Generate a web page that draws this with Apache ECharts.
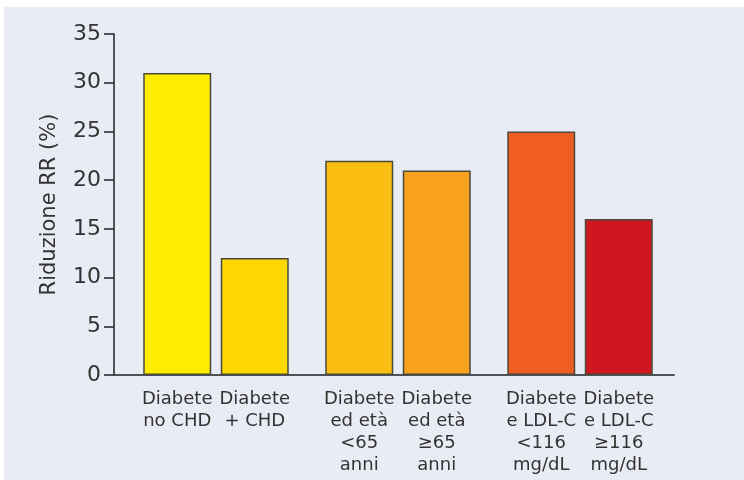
<!DOCTYPE html>
<html>
<head>
<meta charset="utf-8">
<script src="https://cdn.jsdelivr.net/npm/echarts@6/dist/echarts.min.js"></script>
<style>
  html, body { margin: 0; padding: 0; background: #ffffff; }
  #panel { position: absolute; left: 4px; top: 7px; width: 740px; height: 473px; background: #e9ecf4; }
  #chart { position: absolute; left: 0; top: 0; width: 744px; height: 480px; }
</style>
</head>
<body>
<div id="panel"></div>
<div id="chart"></div>
<script>
// Each group holds a pair of bars: the left one and the right one.
const leftLabels  = ['Diabete\nno CHD', 'Diabete\ned età\n<65\nanni', 'Diabete\ne LDL-C\n<116\nmg/dL'];
const rightLabels = ['Diabete\n+ CHD',  'Diabete\ned età\n≥65\nanni', 'Diabete\ne LDL-C\n≥116\nmg/dL'];
const leftValues  = [31, 22, 25];
const rightValues = [12, 21, 16];
const leftColors  = ['#ffed00', '#fbbf14', '#f05d23'];
const rightColors = ['#fdd800', '#f7a11c', '#ce171f'];
const groupKeys   = ['g1', 'g2', 'g3'];
const yTicks      = { min: 0, max: 35, step: 5 };

const textColor = '#333333';
const axisColor = '#4f5259';
const borderCol = '#4a4a3c';

function barSeries(values, colors, labels) {
  return {
    type: 'bar',
    xAxisIndex: 1,
    yAxisIndex: 1,
    barWidth: 68,
    barGap: '14%',
    data: values.map((v, i) => ({
      value: v,
      itemStyle: { color: colors[i], borderColor: borderCol, borderWidth: 1.5 }
    })),
    label: {
      show: true,
      position: 'bottom',
      distance: 13,
      formatter: p => labels[p.dataIndex],
      color: textColor,
      fontFamily: 'DejaVu Sans',
      fontSize: 18,
      lineHeight: 22,
      align: 'center'
    },
    emphasis: { disabled: true },
    animation: false
  };
}

const chart = echarts.init(document.getElementById('chart'), null, { renderer: 'canvas' });
chart.setOption({
  animation: false,
  grid: [
    { left: 114, right: 70, top: 34, bottom: 105 },
    { left: 125, right: 73, top: 34, bottom: 105 }
  ],
  xAxis: [
    {
      gridIndex: 0,
      type: 'category',
      data: [''],
      axisLine: { show: true, lineStyle: { color: axisColor, width: 2 } },
      axisTick: { show: false },
      axisLabel: { show: false }
    },
    {
      gridIndex: 1,
      type: 'category',
      data: groupKeys,
      show: false
    }
  ],
  yAxis: [
    {
      gridIndex: 0,
      type: 'value',
      min: yTicks.min,
      max: yTicks.max,
      interval: yTicks.step,
      name: 'Riduzione RR (%)',
      nameLocation: 'middle',
      nameGap: 54,
      nameTextStyle: { color: textColor, fontFamily: 'DejaVu Sans', fontSize: 21 },
      axisLine: { show: true, lineStyle: { color: '#222222', width: 1.5 } },
      axisTick: { show: true, length: 10, lineStyle: { color: '#222222', width: 1.5 } },
      axisLabel: { color: textColor, fontFamily: 'DejaVu Sans', fontSize: 22, margin: 13 },
      splitLine: { show: false }
    },
    {
      gridIndex: 1,
      type: 'value',
      min: yTicks.min,
      max: yTicks.max,
      interval: yTicks.step,
      show: false,
      splitLine: { show: false }
    }
  ],
  series: [
    barSeries(leftValues, leftColors, leftLabels),
    barSeries(rightValues, rightColors, rightLabels)
  ]
});
</script>
</body>
</html>
